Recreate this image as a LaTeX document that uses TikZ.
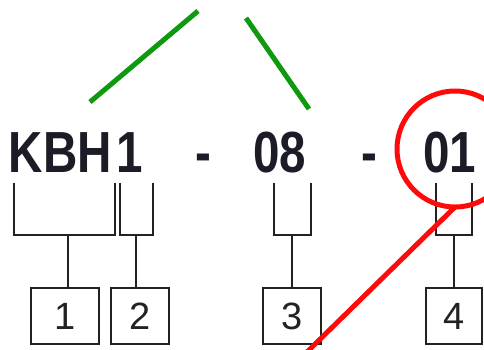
\documentclass[tikz,border=0pt]{standalone}
\usepackage{fontspec}
\setmainfont{Liberation Sans}
\newfontfamily\codefont[FakeStretch=0.82]{Liberation Sans}
\definecolor{codeink}{HTML}{1C1C26}
\definecolor{lineink}{HTML}{222222}
\definecolor{markgreen}{HTML}{0E990E}
\definecolor{markred}{HTML}{FF0A0A}
\begin{document}
\begin{tikzpicture}[x=1pt,y=-1pt,
  code/.style={font=\codefont\fontsize{58}{58}\selectfont\bfseries, text=codeink, inner sep=0pt, anchor=base west},
  numbox/.style={draw=lineink, line width=2pt, minimum height=56pt, inner sep=0pt,
                 font=\fontsize{38}{38}\selectfont, text=lineink},
  bracket/.style={draw=lineink, line width=2pt},
  greenmark/.style={draw=markgreen, line width=5pt},
  redmark/.style={draw=markred, line width=5pt}]
\useasboundingbox (0,0) rectangle (484,349);
\clip (0,0) rectangle (484,349);
% code text
\node[code] (kbh) at (8.5,172) {KBH};
\node[code] (one) at (116,172) {1};
\node[code] (dashA) at (195,172) {-};
\node[code] (eight) at (253,172) {08};
\node[code] (dashB) at (361,172) {-};
\node[code] (zeroone) at (423,172) {01};
% boxes
\node[numbox, minimum width=68pt] (b1) at (65,316) {1};
\node[numbox, minimum width=58pt] (b2) at (140,316) {2};
\node[numbox, minimum width=58pt] (b3) at (292,316) {3};
\node[numbox, minimum width=56pt] (b4) at (454,316) {4};
% bracket coordinates
\coordinate (k1) at (14,183); \coordinate (k2) at (115,183);
\coordinate (o1) at (120,183); \coordinate (o2) at (153,183);
\coordinate (e1) at (274,183); \coordinate (e2) at (311,183);
\coordinate (z1) at (436,183); \coordinate (z2) at (472,183);
% brackets
\draw[bracket] (k1) |- (68,235) coordinate (kmid) -| (k2);
\draw[bracket] (o1) |- (136,235) coordinate (omid) -| (o2);
\draw[bracket] (e1) |- (292,235) coordinate (emid) -| (e2);
\draw[bracket] (z1) |- (454,235) coordinate (zmid) -| (z2);
\draw[bracket] (kmid) -- (kmid |- b1.north);
\draw[bracket] (omid) -- (omid |- b2.north);
\draw[bracket] (emid) -- (emid |- b3.north);
\draw[bracket] (zmid) -- (zmid |- b4.north);
% marks
\coordinate (g1a) at (90,102); \coordinate (g1b) at (198,11);
\coordinate (g2a) at (246,18); \coordinate (g2b) at (309,109);
\draw[greenmark] (g1a) -- (g1b);
\draw[greenmark] (g2a) -- (g2b);
\node[draw=markred, line width=5pt, circle, minimum size=116pt, inner sep=0pt] (ring) at (455,149) {};
\coordinate (rA) at (307,352);
\draw[redmark] (rA) -- (455,207);
\end{tikzpicture}
\end{document}
